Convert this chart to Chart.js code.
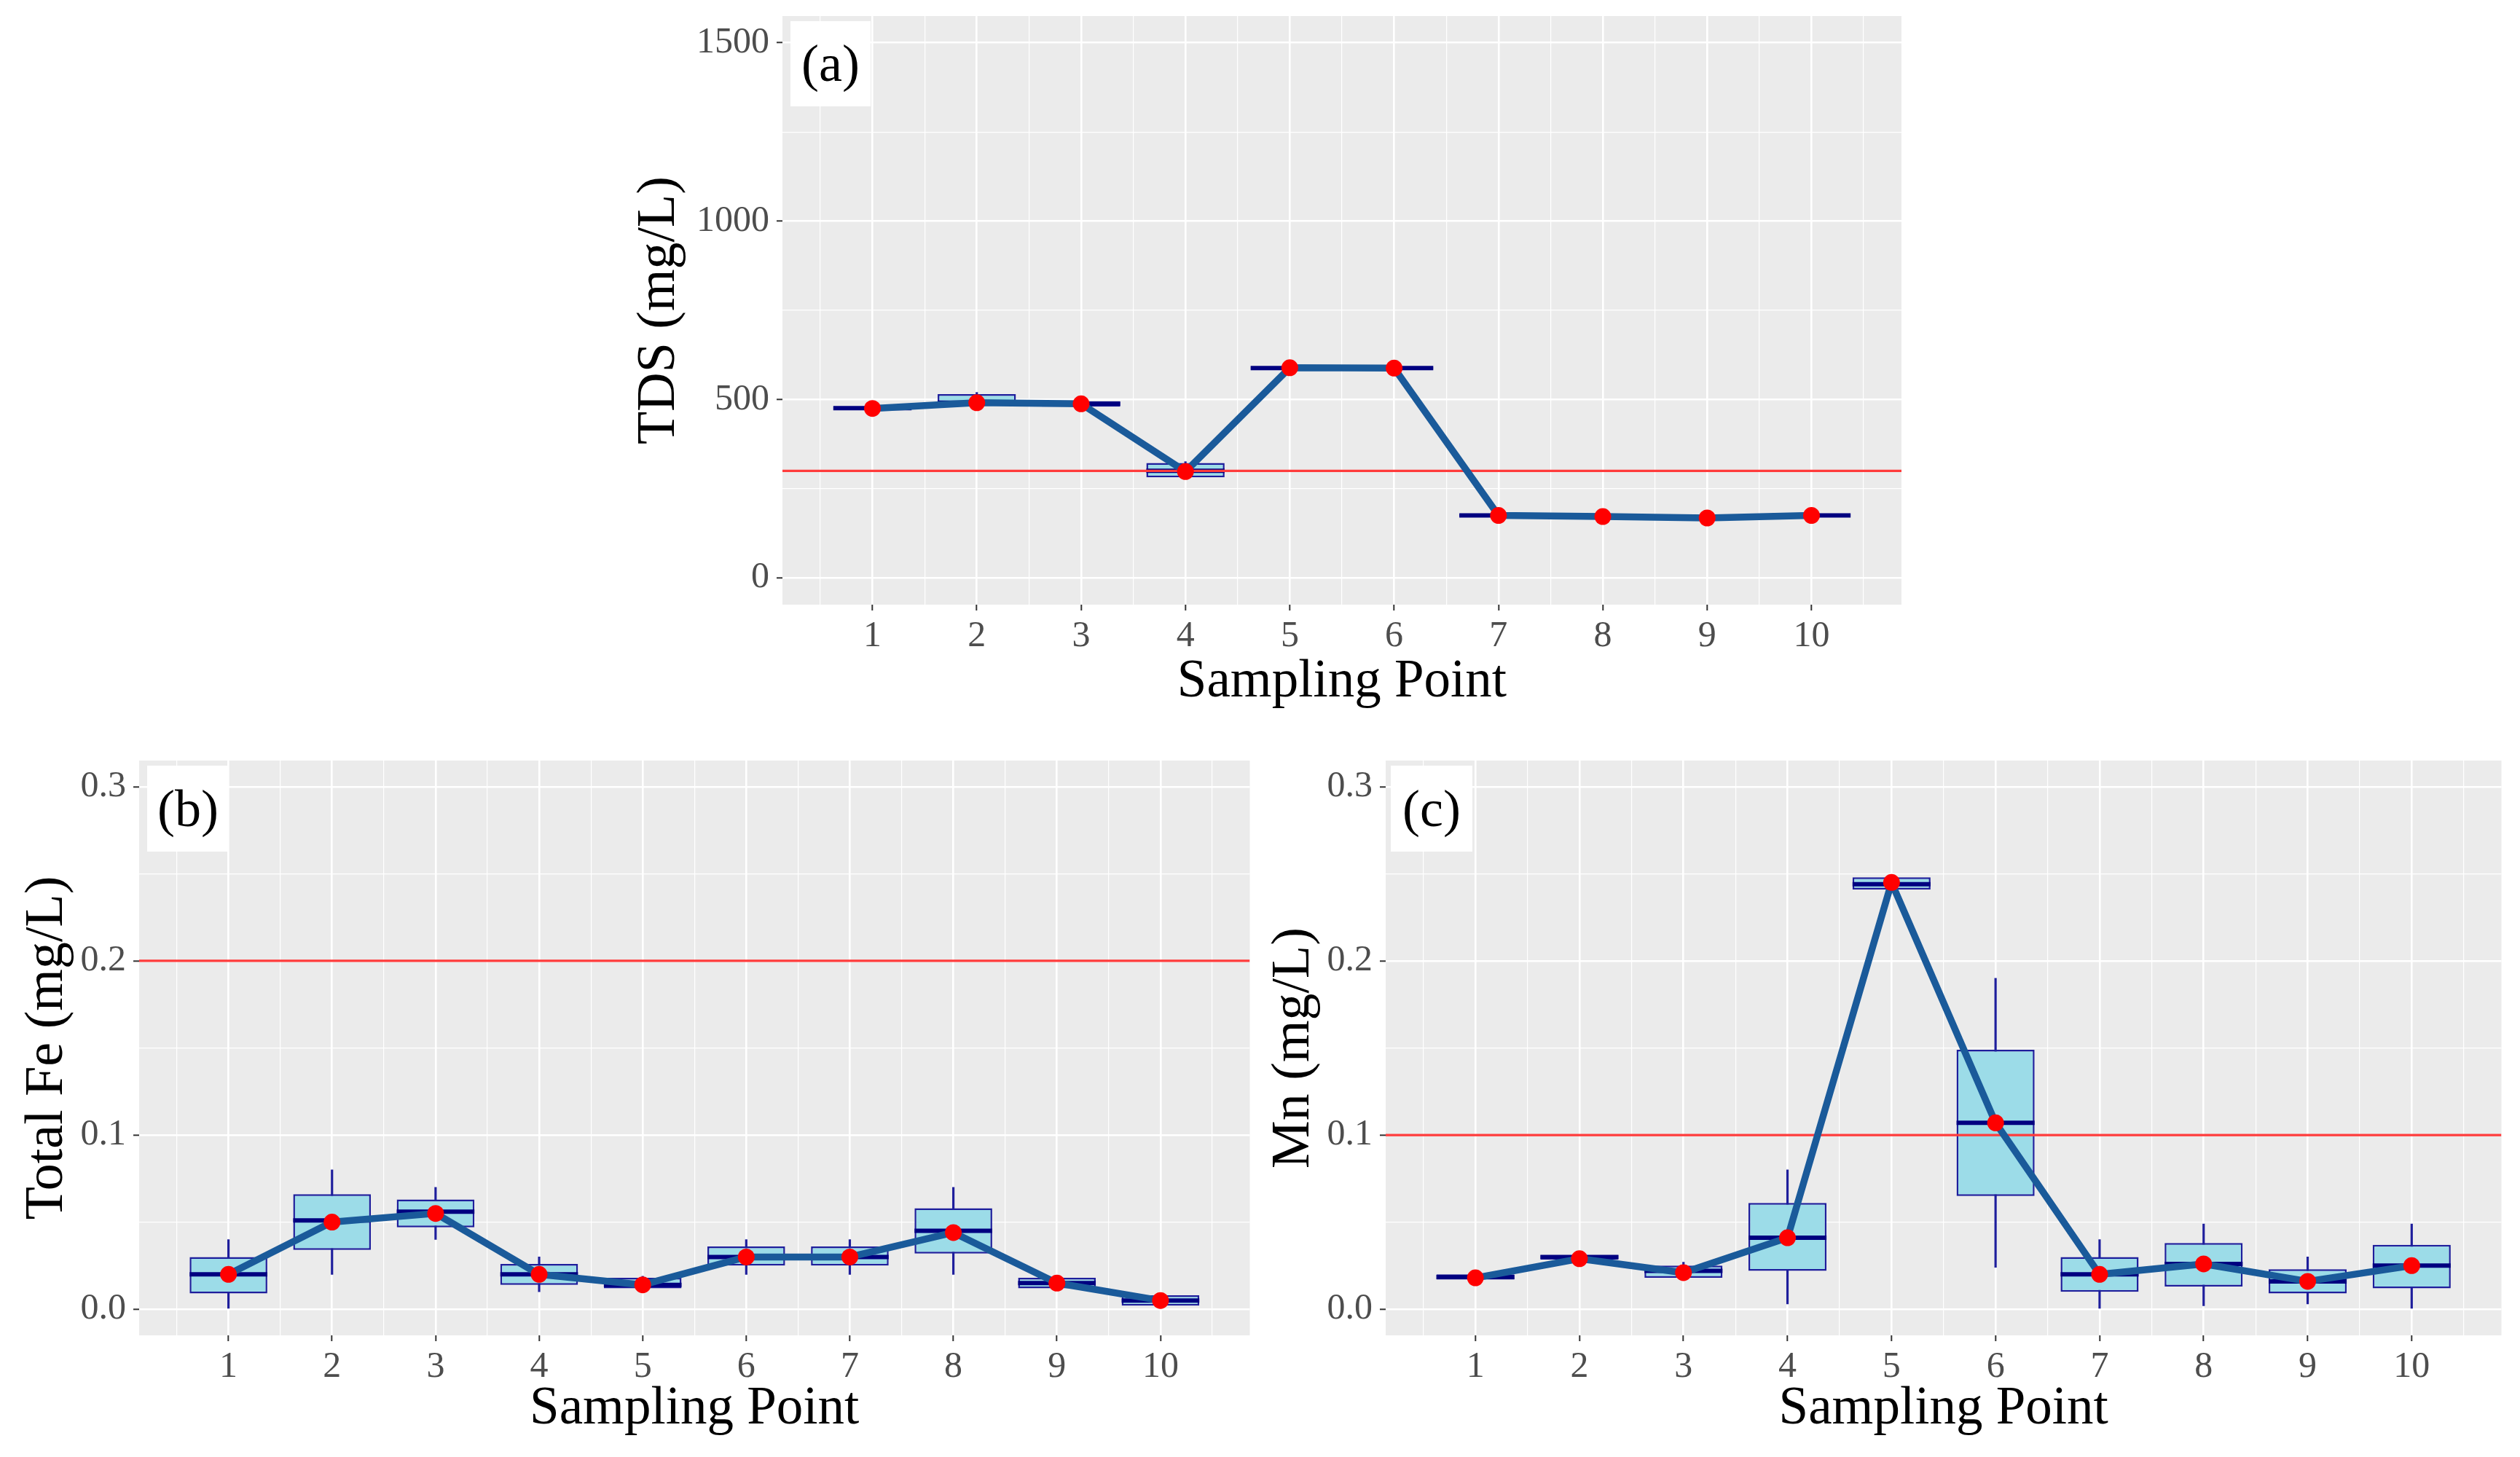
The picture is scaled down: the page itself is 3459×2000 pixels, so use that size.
<!DOCTYPE html>
<html>
<head>
<meta charset="utf-8">
<script src="https://cdn.jsdelivr.net/npm/chart.js@4.4.1/dist/chart.umd.min.js"></script>
<style>
html, body { margin: 0; padding: 0; background: #ffffff; }
body { width: 3459px; height: 2000px; position: relative; overflow: hidden; }
canvas { position: absolute; }
.tag { position: absolute; background: #ffffff; color: #000000; text-align: center;
       font-family: "Liberation Serif", "DejaVu Serif", serif; font-size: 72px; }
</style>
</head>
<body>
<canvas id="chartA" width="1761" height="999" style="left:861px;top:-18px"></canvas>
<canvas id="chartB" width="1706" height="975" style="left:21px;top:1004px"></canvas>
<canvas id="chartC" width="1713" height="975" style="left:1732px;top:1004px"></canvas>
<div class="tag" style="left:1085px;top:29px;width:110px;height:117px;line-height:117px">(a)</div>
<div class="tag" style="left:202px;top:1051px;width:112px;height:118px;line-height:118px">(b)</div>
<div class="tag" style="left:1909px;top:1051px;width:112px;height:118px;line-height:118px">(c)</div>
<script>
var samplingPoints = [1, 2, 3, 4, 5, 6, 7, 8, 9, 10];

// TDS (mg/L)
var tdsLow    = [468, 478, 476, 278, 583, 583, 170, 168, 164, 170];
var tdsQ1     = [471, 483, 480, 282, 585, 585, 172, 170, 166, 172];
var tdsMedian = [476, 491, 488, 300, 588, 588, 175, 173, 169, 175];
var tdsQ3     = [480, 515, 495, 322, 592, 591, 178, 176, 172, 178];
var tdsHigh   = [483, 520, 498, 326, 594, 593, 180, 178, 174, 180];
var tdsMean   = [475, 491, 488, 298, 589, 588, 175, 172, 168, 175];
var tdsLimit  = 300;

// Total Fe (mg/L)
var feLow    = [0.000, 0.020, 0.040, 0.010, 0.011, 0.020, 0.020, 0.020, 0.011, 0.001];
var feQ1     = [0.009, 0.034, 0.047, 0.014, 0.012, 0.025, 0.025, 0.032, 0.012, 0.002];
var feMedian = [0.020, 0.051, 0.056, 0.020, 0.014, 0.030, 0.030, 0.045, 0.015, 0.005];
var feQ3     = [0.030, 0.066, 0.063, 0.026, 0.018, 0.036, 0.036, 0.058, 0.018, 0.008];
var feHigh   = [0.040, 0.080, 0.070, 0.030, 0.019, 0.040, 0.040, 0.070, 0.019, 0.009];
var feMean   = [0.020, 0.050, 0.055, 0.020, 0.014, 0.030, 0.030, 0.044, 0.015, 0.005];
var feLimit  = 0.2;

// Mn (mg/L)
var mnLow    = [0.016, 0.028, 0.017, 0.003, 0.241, 0.024, 0.000, 0.002, 0.003, 0.000];
var mnQ1     = [0.017, 0.0285, 0.018, 0.022, 0.241, 0.065, 0.010, 0.013, 0.009, 0.012];
var mnMedian = [0.0185, 0.030, 0.022, 0.041, 0.244, 0.107, 0.020, 0.026, 0.016, 0.025];
var mnQ3     = [0.020, 0.031, 0.025, 0.061, 0.248, 0.149, 0.030, 0.038, 0.023, 0.037];
var mnHigh   = [0.021, 0.032, 0.027, 0.080, 0.248, 0.190, 0.040, 0.049, 0.030, 0.049];
var mnMean   = [0.018, 0.029, 0.021, 0.041, 0.245, 0.107, 0.020, 0.026, 0.016, 0.025];
var mnLimit  = 0.1;

var FONT = "'Liberation Serif', 'DejaVu Serif', serif";
var BOX_WIDTH = 0.75;
var X_STEP = 0.5;   // tick spacing on x, chart.js sizes bars from it
var X_MIN = 0.1375, X_MAX = 10.8625;

Chart.defaults.font.family = FONT;
Chart.defaults.animation = false;

function pairs(lo, hi){
    return samplingPoints.map(function(p, i){ return {x: p, y: [lo[i], hi[i]]}; });
}
function points(vals){
    return samplingPoints.map(function(p, i){ return {x: p, y: vals[i]}; });
}
function near(v, step){
    var r = v / step;
    return Math.abs(r - Math.round(r)) < 1e-6;
}

var panelBg = {
    id: 'panelBg',
    beforeDraw: function(chart){
        var a = chart.chartArea, ctx = chart.ctx;
        ctx.save();
        ctx.fillStyle = '#EBEBEB';
        ctx.fillRect(a.left, a.top, a.right - a.left, a.bottom - a.top);
        ctx.restore();
    }
};

function BoxChart(id, s){
    var ctx = document.getElementById(id).getContext('2d');
    var halfBox = function(c){
        var x = c.chart.scales.x;
        return Math.abs(x.getPixelForValue(BOX_WIDTH / 2) - x.getPixelForValue(0));
    };
    return new Chart(ctx, {
        type: 'bar',
        data: {
            datasets: [
                { type: 'line', data: [{x: X_MIN, y: s.limit}, {x: X_MAX, y: s.limit}],
                  borderColor: '#FF3B3B', borderWidth: 3.2, pointRadius: 0, order: 2 },
                { type: 'line', data: points(s.mean), borderColor: '#1A5A9A', borderWidth: 9.5,
                  borderJoinStyle: 'round', borderCapStyle: 'round', tension: 0,
                  pointRadius: 11.5, pointBackgroundColor: '#FF0000', pointBorderWidth: 0, order: 1 },
                { type: 'line', data: points(s.median), showLine: false, pointStyle: 'line',
                  pointRadius: halfBox, pointBorderColor: '#000080', pointBorderWidth: 6, order: 3 },
                { type: 'bar', data: pairs(s.q1, s.q3), grouped: false, barPercentage: BOX_WIDTH / X_STEP,
                  categoryPercentage: 1, backgroundColor: '#9CDCE8', borderColor: '#1E1E9C',
                  borderWidth: 2.5, borderSkipped: false, order: 4 },
                { type: 'bar', data: pairs(s.low, s.high), grouped: false, barThickness: 2.5,
                  backgroundColor: '#1E1E9C', order: 5 }
            ]
        },
        options: {
            responsive: false,
            devicePixelRatio: 1,
            layout: { padding: { top: 0, right: s.padRight, left: 0, bottom: 0 } },
            plugins: { legend: { display: false }, tooltip: { enabled: false } },
            events: [],
            scales: {
                x: {
                    type: 'linear', min: X_MIN, max: X_MAX, offset: false,
                    afterFit: function(sc){ sc.height = s.xAxisHeight; },
                    ticks: { stepSize: X_STEP, includeBounds: false, autoSkip: false, maxRotation: 0,
                             padding: 6, color: '#4D4D4D', font: { size: 50 },
                             callback: function(v){ return near(v, 1) ? String(Math.round(v)) : ''; } },
                    grid: { offset: false, color: '#FFFFFF', tickLength: 8, tickWidth: 2,
                            lineWidth: function(c){ return c.tick && near(c.tick.value, 1) ? 2.6 : 1.2; },
                            tickColor: function(c){ return c.tick && near(c.tick.value, 1) ? '#333333' : 'rgba(0,0,0,0)'; } },
                    border: { display: false },
                    title: { display: true, text: 'Sampling Point', color: '#000000',
                             font: { size: 73 }, padding: 0 }
                },
                y: {
                    type: 'linear', min: s.yMin, max: s.yMax,
                    afterFit: function(sc){ sc.width = s.yAxisWidth; },
                    ticks: { stepSize: s.yStep / 2, includeBounds: false, autoSkip: false,
                             padding: 10, color: '#4D4D4D', font: { size: 50 },
                             callback: function(v){ return near(v, s.yStep) ? s.fmt(v) : ''; } },
                    grid: { color: '#FFFFFF', tickLength: 8, tickWidth: 2,
                            lineWidth: function(c){ return c.tick && near(c.tick.value, s.yStep) ? 2.6 : 1.2; },
                            tickColor: function(c){ return c.tick && near(c.tick.value, s.yStep) ? '#333333' : 'rgba(0,0,0,0)'; } },
                    border: { display: false },
                    title: { display: true, text: s.yTitle, color: '#000000',
                             font: { size: 74 }, padding: 0 }
                }
            }
        },
        plugins: [panelBg]
    });
}

window.addEventListener("load", function(){
    BoxChart('chartA', {
        low: tdsLow, q1: tdsQ1, median: tdsMedian, q3: tdsQ3, high: tdsHigh, mean: tdsMean,
        limit: tdsLimit, yMin: -75, yMax: 1575, yStep: 500, yTitle: 'TDS (mg/L)',
        fmt: function(v){ return String(Math.round(v)); },
        padRight: 12, yAxisWidth: 213, xAxisHeight: 151
    });
    BoxChart('chartB', {
        low: feLow, q1: feQ1, median: feMedian, q3: feQ3, high: feHigh, mean: feMean,
        limit: feLimit, yMin: -0.015, yMax: 0.315, yStep: 0.1, yTitle: 'Total Fe (mg/L)',
        fmt: function(v){ return v.toFixed(1); },
        padRight: 4, yAxisWidth: 170, xAxisHeight: 146
    });
    BoxChart('chartC', {
        low: mnLow, q1: mnQ1, median: mnMedian, q3: mnQ3, high: mnHigh, mean: mnMean,
        limit: mnLimit, yMin: -0.015, yMax: 0.315, yStep: 0.1, yTitle: 'Mn (mg/L)',
        fmt: function(v){ return v.toFixed(1); },
        padRight: 10, yAxisWidth: 170, xAxisHeight: 146
    });
});
</script>
</body>
</html>
